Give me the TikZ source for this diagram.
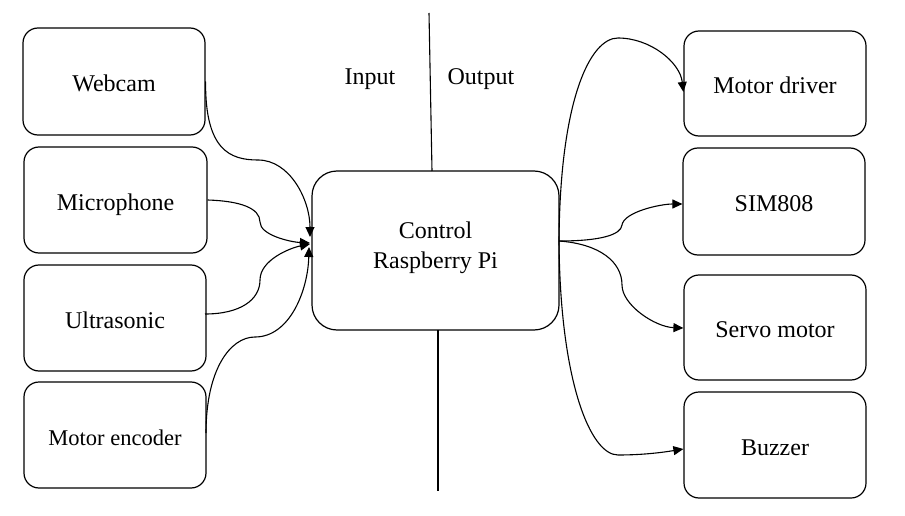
\documentclass[tikz,border=0pt]{standalone}
\usepackage{fontspec}
\setmainfont{Liberation Serif}
\usetikzlibrary{arrows.meta}
\begin{document}
\begin{tikzpicture}[x=1pt,y=-1pt,
  box/.style={draw,line width=1.2pt,rounded corners=15pt,align=center,
    inner sep=0pt,text height=22pt,text depth=2pt,font=\fontsize{24}{29}\selectfont},
  lbl/.style={font=\fontsize{24}{29}\selectfont,align=center},
  link/.style={line width=1.1pt},
  arr/.style={link,-{Triangle[length=10pt,width=9pt]}}]
\useasboundingbox (0,0) rectangle (905,516);
% left boxes
\node[box,minimum width=182pt,minimum height=107pt] (web) at (114,81.5) {Webcam};
\node[box,minimum width=183pt,minimum height=106pt] (mic) at (115.5,200) {Microphone};
\node[box,minimum width=182pt,minimum height=106pt] (ult) at (115,318) {Ultrasonic};
\node[box,minimum width=182pt,minimum height=106pt,font=\fontsize{22.5}{27}\selectfont] (enc) at (115,435) {Motor encoder};
% center
\node[box,rounded corners=25pt,minimum width=247pt,minimum height=159pt] (ctrl) at (435.5,250.5) {};
\node[lbl] (ctrltext) at (435.5,247.5) {Control\\[1pt]Raspberry Pi};
% right boxes
\node[box,minimum width=182pt,minimum height=105pt] (drv) at (775,83.5) {Motor driver};
\node[box,minimum width=182pt,minimum height=107pt] (sim) at (774,201.5) {SIM808};
\node[box,minimum width=182pt,minimum height=105pt] (servo) at (775,327.5) {Servo motor};
\node[box,minimum width=182pt,minimum height=106pt] (buz) at (775,445) {Buzzer};
% labels
\node[lbl] (inlbl) at (370,79) {Input};
\node[lbl] (outlbl) at (481,79) {Output};
% divider
\coordinate (dtop) at (429,13);
\coordinate (dbot) at (438,491);
\draw[line width=1.1pt] (dtop) -- (432,171);
\draw[line width=1.1pt] (438,330) -- (dbot);
% input connectors
\coordinate (i1) at (310,237);
\coordinate (i2) at (310,243);
\coordinate (i3) at (310,244);
\coordinate (i4) at (309,247);
\draw[arr] (web.east) .. controls (205,150) and (230,160) .. (258,160)
  .. controls (290,160) and (310,200) .. (i1);
\draw[arr] (mic.east) .. controls (240,201) and (260,208) .. (260,222)
  .. controls (260,235) and (290,242) .. (i2);
\draw[arr] (205,314) .. controls (240,314) and (260,300) .. (260,280)
  .. controls (260,260) and (290,248) .. (i3);
\draw[arr] (206,433) .. controls (206,370) and (230,337) .. (255,337)
  .. controls (290,337) and (308,290) .. (i4);
% output connectors
\coordinate (o) at (559,241);
\draw[arr] (o) .. controls (560,100) and (590,38) .. (618,38)
  .. controls (650,38) and (680,62) .. (drv.west |- 0,92);
\draw[arr] (o) .. controls (560,380) and (590,455) .. (618,455)
  .. controls (645,455) and (665,452) .. (buz.west |- 0,449);
\draw[arr] (o) .. controls (600,241) and (621,235) .. (622,225)
  .. controls (624,212) and (660,204) .. (sim.west |- 0,204);
\draw[arr] (o) .. controls (600,244) and (622,262) .. (622,285)
  .. controls (622,305) and (655,327) .. (servo.west |- 0,328);
\end{tikzpicture}
\end{document}
